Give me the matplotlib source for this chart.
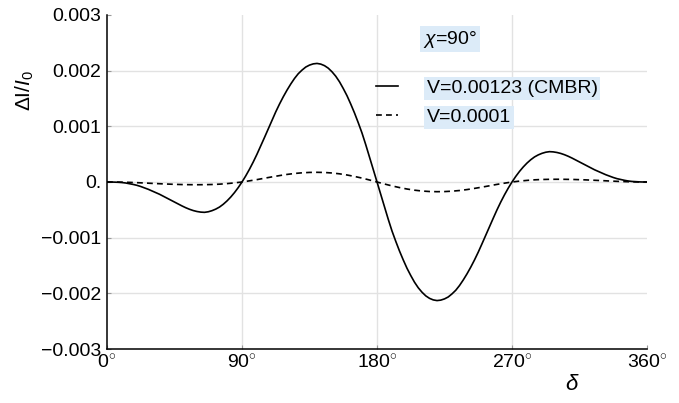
import matplotlib
matplotlib.use("Agg")
import matplotlib.pyplot as plt
from matplotlib.lines import Line2D

plt.rcParams['font.family'] = ['Liberation Sans', 'DejaVu Sans']
plt.rcParams['mathtext.fontset'] = 'custom'
plt.rcParams['mathtext.rm'] = 'Liberation Sans'
plt.rcParams['mathtext.it'] = 'Liberation Sans:italic'

# phase angle delta (degrees): every 2.5 deg for the big curve, every 5 deg for the small one
delta_fine = [i * 2.5 for i in range(145)]
delta = list(range(0, 365, 5))

# V = 0.00123 (CMBR) (x 1e-3)
v_cmbr = [0, 0, -0.002, -0.005, -0.01, -0.018, -0.03, -0.044, -0.06, -0.081,
          -0.105, -0.131, -0.16, -0.19, -0.22, -0.255, -0.29, -0.325, -0.36, -0.395,
          -0.43, -0.462, -0.49, -0.513, -0.53, -0.541, -0.545, -0.535, -0.515, -0.487,
          -0.45, -0.40, -0.34, -0.27, -0.19, -0.10, 0, 0.11, 0.23, 0.36,
          0.50, 0.65, 0.80, 0.955, 1.11, 1.26, 1.40, 1.53, 1.65, 1.76,
          1.86, 1.945, 2.01, 2.065, 2.10, 2.122, 2.13, 2.118, 2.09, 2.045,
          1.98, 1.90, 1.80, 1.68, 1.55, 1.40, 1.24, 1.065, 0.88, 0.67,
          0.45, 0.225, 0,
          -0.225, -0.45, -0.67, -0.88, -1.065, -1.24, -1.40, -1.55, -1.68, -1.80,
          -1.90, -1.98, -2.045, -2.09, -2.118, -2.13, -2.122, -2.10, -2.065, -2.01,
          -1.945, -1.86, -1.76, -1.65, -1.53, -1.40, -1.26, -1.11, -0.955, -0.80,
          -0.65, -0.50, -0.36, -0.23, -0.11, 0, 0.10, 0.19, 0.27, 0.34,
          0.40, 0.45, 0.487, 0.515, 0.535, 0.545, 0.541, 0.53, 0.513, 0.49,
          0.462, 0.43, 0.395, 0.36, 0.325, 0.29, 0.255, 0.22, 0.19, 0.16,
          0.131, 0.105, 0.081, 0.06, 0.044, 0.03, 0.018, 0.01, 0.005, 0.002,
          0, 0]

# V = 0.0001 (x 1e-3)
v_small = [0, -0.001, -0.003, -0.007, -0.012, -0.018, -0.025, -0.031, -0.037, -0.042,
           -0.046, -0.048, -0.049, -0.048, -0.045, -0.039, -0.029, -0.016, 0, 0.021,
           0.043, 0.068, 0.092, 0.115, 0.136, 0.153, 0.165, 0.172, 0.174, 0.171,
           0.162, 0.147, 0.126, 0.100, 0.070, 0.036, 0, -0.036, -0.070, -0.100,
           -0.126, -0.147, -0.162, -0.171, -0.174, -0.172, -0.165, -0.153, -0.136, -0.115,
           -0.092, -0.068, -0.043, -0.021, 0, 0.016, 0.029, 0.039, 0.045, 0.048,
           0.049, 0.048, 0.046, 0.042, 0.037, 0.031, 0.025, 0.018, 0.012, 0.007,
           0.003, 0.001, 0]

x_ticks = [0, 90, 180, 270, 360]
y_ticks = [-0.003, -0.002, -0.001, 0, 0.001, 0.002, 0.003]
y_labels = ["\u22120.003", "\u22120.002", "\u22120.001", "0.", "0.001", "0.002", "0.003"]
labels = ["V=0.00123 (CMBR)", "V=0.0001"]

box_color = "#dcebf8"
grid_color = "#e2e2e2"

fig = plt.figure(figsize=(6.79, 4.03), dpi=100)
ax = fig.add_axes([107 / 679, 1 - 349 / 403, 540 / 679, 334 / 403])

# light grid lines (not on the frame edges)
for v in x_ticks[1:-1]:
    ax.axvline(v, color=grid_color, lw=1, zorder=0)
for v in y_ticks[1:-1]:
    ax.axhline(v, color=grid_color, lw=1, zorder=0)

ax.plot(delta_fine, [v * 1e-3 for v in v_cmbr], color="black", lw=1.2)
ax.plot(delta, [v * 1e-3 for v in v_small], color="black", lw=1.2, linestyle=(0, (3.5, 2.5)))

ax.set_xlim(0, 360)
ax.set_ylim(-0.003, 0.003)
ax.set_xticks(x_ticks)
ax.set_xticklabels([f"{t}$^{{\\circ}}$" for t in x_ticks])
ax.set_yticks(y_ticks)
ax.set_yticklabels(y_labels)
ax.tick_params(direction="in", length=3, color="#999999", labelsize=14, pad=4)

for s in ["top", "right"]:
    ax.spines[s].set_visible(False)
for s in ["left", "bottom"]:
    ax.spines[s].set_linewidth(1.1)

fig.text(25 / 679, 1 - 91 / 403, "\u0394I/$I_0$", rotation=90, fontsize=15,
         ha="center", va="center")
fig.text(572 / 679, 1 - 385 / 403, r"$\delta$", fontsize=16, ha="center", va="center")

# chi label
fig.text(423 / 679, 1 - 39 / 403, "$\\chi$=90\u00b0", fontsize=14, ha="left", va="center",
         bbox=dict(boxstyle="square,pad=0.15", fc=box_color, ec="none"))

handles = [Line2D([], [], color="black", lw=1.2),
           Line2D([], [], color="black", lw=1.2, linestyle=(0, (3.5, 2.5)))]
leg = ax.legend(handles, labels, loc="upper left", bbox_to_anchor=(376 / 679, 1 - 79 / 403),
                bbox_transform=fig.transFigure, frameon=False, fontsize=14,
                borderpad=0, borderaxespad=0,
                handlelength=1.15, handletextpad=1.45, labelspacing=0.62)
for t in leg.get_texts():
    t.set_bbox(dict(boxstyle="square,pad=0.15", fc=box_color, ec="none"))

fig.savefig("out.png", dpi=100)
